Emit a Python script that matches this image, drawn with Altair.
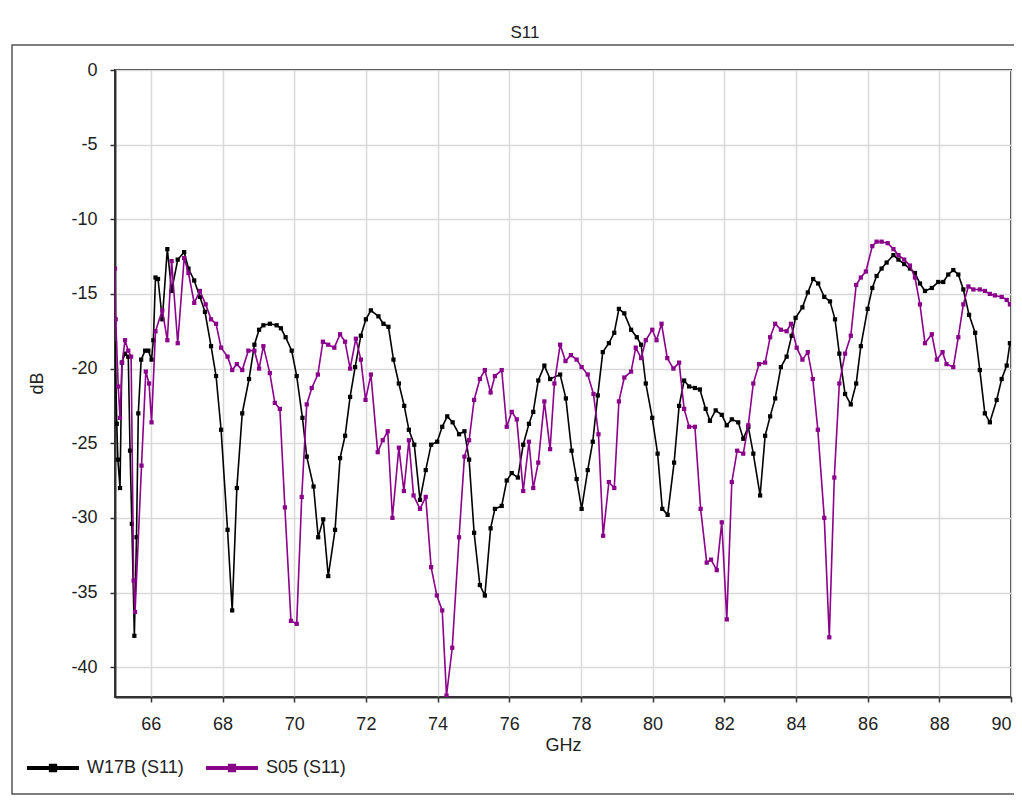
import altair as alt
import pandas as pd

# ---- data ----
w17b_freq = [65.00, 65.05, 65.08, 65.14, 65.19, 65.28, 65.37, 65.42, 65.47, 65.54, 65.60, 65.65, 65.73, 65.84, 65.93,
             66.02, 66.07, 66.13, 66.20, 66.32, 66.46, 66.58, 66.75, 66.93, 67.05, 67.21, 67.37, 67.51, 67.68, 67.82,
             67.96, 68.14, 68.27, 68.40, 68.55, 68.74, 68.89, 69.02, 69.14, 69.32, 69.51, 69.63, 69.76, 69.93, 70.07,
             70.23, 70.35, 70.54, 70.67, 70.81, 70.95, 71.14, 71.28, 71.42, 71.56, 71.70, 71.86, 72.00, 72.14, 72.35,
             72.49, 72.63, 72.77, 72.92, 73.07, 73.20, 73.35, 73.51, 73.67, 73.82, 73.99, 74.13, 74.27, 74.42, 74.60,
             74.75, 74.88, 75.02, 75.18, 75.32, 75.48, 75.60, 75.79, 75.93, 76.07, 76.24, 76.39, 76.55, 76.67, 76.81,
             76.98, 77.14, 77.42, 77.58, 77.74, 77.88, 78.02, 78.19, 78.33, 78.47, 78.61, 78.78, 78.93, 79.06, 79.21,
             79.40, 79.56, 79.68, 79.81, 79.99, 80.14, 80.27, 80.42, 80.60, 80.74, 80.88, 81.02, 81.18, 81.32, 81.48,
             81.60, 81.76, 81.93, 82.07, 82.21, 82.39, 82.53, 82.67, 82.81, 83.00, 83.14, 83.28, 83.42, 83.58, 83.74,
             83.88, 83.99, 84.18, 84.33, 84.48, 84.62, 84.79, 84.95, 85.09, 85.21, 85.37, 85.53, 85.68, 85.81, 86.00,
             86.13, 86.25, 86.39, 86.53, 86.72, 86.86, 87.02, 87.18, 87.32, 87.46, 87.60, 87.79, 87.97, 88.11, 88.25,
             88.39, 88.53, 88.67, 88.83, 89.00, 89.13, 89.27, 89.41, 89.60, 89.74, 89.88, 89.97]
w17b_db = [-18.3, -23.7, -26.1, -28.0, -19.6, -19.0, -19.2, -25.5, -30.4, -37.9, -31.3, -23.0, -19.4, -18.8, -18.8,
           -19.4, -18.1, -13.9, -14.0, -16.7, -12.0, -14.8, -12.7, -12.2, -13.3, -14.1, -15.2, -16.2, -18.5, -20.5,
           -24.1, -30.8, -36.2, -28.0, -23.0, -20.7, -18.4, -17.4, -17.1, -17.0, -17.1, -17.3, -17.9, -18.8, -20.5,
           -23.3, -25.9, -27.9, -31.3, -30.1, -33.9, -30.8, -26.0, -24.5, -21.9, -19.9, -17.8, -16.7, -16.1, -16.5,
           -17.0, -17.2, -19.4, -21.0, -22.5, -24.1, -25.1, -28.8, -26.8, -25.1, -24.9, -23.9, -23.2, -23.6, -24.4,
           -24.2, -26.1, -31.0, -34.5, -35.2, -30.7, -29.4, -29.2, -27.5, -27.0, -27.3, -25.1, -23.7, -22.9, -20.8,
           -19.8, -20.7, -20.4, -22.0, -25.5, -27.4, -29.4, -26.8, -24.9, -21.8, -18.9, -18.3, -17.6, -16.0, -16.3,
           -17.4, -17.9, -18.4, -21.0, -23.3, -25.7, -29.4, -29.8, -26.3, -22.5, -20.8, -21.2, -21.3, -21.4, -22.7,
           -23.5, -22.8, -23.1, -23.8, -23.4, -23.6, -24.7, -23.9, -25.7, -28.5, -24.5, -23.2, -22.0, -19.9, -19.2,
           -17.8, -16.6, -15.9, -14.9, -14.0, -14.3, -15.2, -15.5, -16.7, -19.0, -21.7, -22.4, -21.0, -18.5, -16.0,
           -14.6, -13.8, -13.3, -12.9, -12.4, -12.7, -13.0, -13.3, -13.6, -14.3, -14.8, -14.6, -14.2, -14.2, -13.7,
           -13.4, -13.7, -14.7, -16.4, -17.6, -20.1, -23.0, -23.6, -22.1, -20.7, -19.8, -18.3]

s05_freq = [65.00, 65.02, 65.09, 65.14, 65.20, 65.28, 65.37, 65.45, 65.52, 65.56, 65.74, 65.86, 65.95, 66.02, 66.13,
            66.32, 66.46, 66.58, 66.75, 66.93, 67.05, 67.21, 67.37, 67.53, 67.68, 67.82, 67.96, 68.14, 68.27, 68.40,
            68.55, 68.72, 68.89, 69.02, 69.14, 69.32, 69.46, 69.60, 69.74, 69.91, 70.07, 70.21, 70.35, 70.49, 70.66,
            70.80, 70.95, 71.12, 71.28, 71.42, 71.56, 71.72, 71.86, 71.99, 72.14, 72.33, 72.47, 72.61, 72.74, 72.92,
            73.06, 73.20, 73.33, 73.51, 73.67, 73.82, 73.98, 74.13, 74.25, 74.41, 74.60, 74.75, 74.88, 75.02, 75.18,
            75.32, 75.48, 75.60, 75.79, 75.93, 76.07, 76.21, 76.39, 76.55, 76.67, 76.81, 76.98, 77.14, 77.26, 77.42,
            77.57, 77.72, 77.88, 78.02, 78.19, 78.35, 78.49, 78.62, 78.78, 78.93, 79.06, 79.21, 79.40, 79.53, 79.68,
            79.81, 79.99, 80.11, 80.25, 80.41, 80.58, 80.74, 80.88, 81.02, 81.18, 81.34, 81.51, 81.63, 81.79, 81.93,
            82.07, 82.21, 82.36, 82.53, 82.67, 82.81, 82.97, 83.14, 83.28, 83.42, 83.58, 83.74, 83.86, 84.02, 84.18,
            84.33, 84.47, 84.61, 84.79, 84.93, 85.07, 85.21, 85.37, 85.53, 85.68, 85.81, 85.95, 86.13, 86.25, 86.39,
            86.56, 86.72, 86.86, 87.02, 87.18, 87.32, 87.46, 87.60, 87.79, 87.93, 88.09, 88.20, 88.39, 88.53, 88.67,
            88.81, 88.95, 89.13, 89.27, 89.41, 89.55, 89.74, 89.88, 89.97]
s05_db = [-13.3, -16.7, -21.2, -23.3, -19.6, -18.1, -18.8, -19.2, -34.2, -36.3, -26.5, -20.2, -21.0, -23.6, -17.5,
          -16.1, -18.1, -12.8, -18.3, -12.6, -13.6, -15.6, -14.8, -15.7, -16.7, -17.0, -18.6, -19.2, -20.1, -19.7,
          -20.1, -18.8, -18.8, -20.0, -18.5, -20.3, -22.3, -22.7, -29.3, -36.9, -37.1, -28.6, -22.4, -21.3, -20.4,
          -18.2, -18.4, -18.6, -17.7, -18.2, -20.0, -18.0, -19.4, -22.1, -20.4, -25.6, -24.8, -24.2, -30.0, -25.3,
          -28.2, -24.8, -28.5, -29.4, -28.6, -33.3, -35.2, -36.2, -41.9, -38.7, -31.3, -25.9, -24.8, -22.1, -20.7,
          -20.1, -21.6, -20.5, -20.1, -23.9, -22.9, -23.4, -28.2, -24.9, -28.0, -26.3, -22.2, -25.4, -21.0, -18.4,
          -19.5, -19.1, -19.4, -19.9, -20.4, -21.7, -24.4, -31.2, -27.6, -28.0, -22.2, -20.6, -20.2, -18.6, -19.3,
          -18.1, -17.4, -18.1, -17.0, -19.3, -20.0, -19.6, -22.7, -23.9, -23.9, -29.4, -33.0, -32.8, -33.5, -30.3,
          -36.8, -27.6, -25.5, -25.7, -23.8, -21.0, -19.7, -19.6, -17.9, -17.0, -17.4, -17.5, -17.0, -18.6, -19.4,
          -18.9, -20.7, -24.1, -30.0, -38.0, -27.3, -21.0, -19.0, -17.8, -14.4, -13.9, -13.5, -11.8, -11.5, -11.5,
          -11.6, -12.0, -12.4, -12.7, -13.1, -13.9, -15.7, -18.3, -17.7, -19.4, -18.9, -19.7, -19.9, -17.9, -15.7,
          -14.5, -14.7, -14.7, -14.8, -15.0, -15.1, -15.2, -15.4, -15.7]

series_names = ["W17B (S11)", "S05 (S11)"]
series_colors = ["#000000", "#8B008B"]
x_ticks = [66, 68, 70, 72, 74, 76, 78, 80, 82, 84, 86, 88, 90]
y_ticks = [0, -5, -10, -15, -20, -25, -30, -35, -40]
chart_title = "S11"

FONT = "Liberation Sans"

df_w = pd.DataFrame({"GHz": w17b_freq, "dB": w17b_db, "series": series_names[0]})
df_s = pd.DataFrame({"GHz": s05_freq, "dB": s05_db, "series": series_names[1]})

x_enc = alt.X("GHz:Q", scale=alt.Scale(domain=[65, 90], nice=False, zero=False),
              axis=alt.Axis(title="GHz", values=x_ticks, labelExpr="toString(datum.value)",
                            labelFontSize=18, labelFont=FONT,
                            labelColor="#222222", titleFont=FONT, titleFontSize=18, titleFontWeight="normal",
                            titleColor="#222222", titlePadding=3, tickSize=5, labelPadding=13,
                            tickColor="#333333", tickWidth=1.5, domainColor="#333333", domainWidth=2,
                            gridColor="#d9d9d9", gridWidth=1.5, labelFlush=True, labelOverlap=False))
y_enc = alt.Y("dB:Q", scale=alt.Scale(domain=[-42, 0], nice=False, zero=False),
              axis=alt.Axis(title="dB", values=y_ticks, labelExpr="toString(datum.value)",
                            labelFontSize=18, labelFont=FONT,
                            labelColor="#222222", titleFont=FONT, titleFontSize=18, titleFontWeight="normal",
                            titleColor="#222222", titleX=-69, titleY=313, tickSize=5, labelPadding=13,
                            tickColor="#333333", tickWidth=1.5, domainColor="#333333", domainWidth=2,
                            gridColor="#d9d9d9", gridWidth=1.5, labelFlush=False, labelOverlap=False))

color_scale = alt.Scale(domain=series_names, range=series_colors)

legend_path = ("M-1,-0.08L1,-0.08L1,0.08L-1,0.08Z "
               "M-0.16,-0.16L0.16,-0.16L0.16,0.16L-0.16,0.16Z")

legend = alt.Legend(title=None, orient="none", legendX=-88, legendY=672, direction="horizontal",
                    symbolType=legend_path, symbolSize=2704, symbolStrokeWidth=0, symbolOpacity=1,
                    labelFont=FONT, labelFontSize=18, labelColor="#222222", labelOffset=8,
                    columnPadding=22, padding=0, labelLimit=300)


def line_layer(df, color):
    return alt.Chart(df).mark_line(strokeWidth=1.6, clip=True, color=color).encode(
        x=x_enc, y=y_enc)


def point_layer(df):
    return alt.Chart(df).mark_square(size=18, filled=True, opacity=1, clip=True).encode(
        x=x_enc, y=y_enc,
        color=alt.Color("series:N", scale=color_scale, legend=legend))


one = pd.DataFrame({"k": [0]})
frame = alt.Chart(one).mark_rect(fill="white", fillOpacity=0, stroke="#555555", strokeWidth=1.5).encode(
    x=alt.value(-103), x2=alt.value(930), y=alt.value(-25), y2=alt.value(724))
title = alt.Chart(one).mark_text(text=chart_title, font=FONT, fontSize=17, color="#222222",
                                 align="center", baseline="middle").encode(
    x=alt.value(410), y=alt.value(-37))

chart = alt.layer(
    frame, title,
    line_layer(df_w, series_colors[0]), point_layer(df_w),
    line_layer(df_s, series_colors[1]), point_layer(df_s),
).properties(
    width=896, height=627,
    autosize=alt.AutoSizeParams(type="none"),
    padding={"left": 107, "top": 62, "right": 3, "bottom": 98},
    background="white",
).configure_view(stroke="#333333", strokeWidth=2)

chart.save("out.html", embed_options={"renderer": "svg", "actions": False})
